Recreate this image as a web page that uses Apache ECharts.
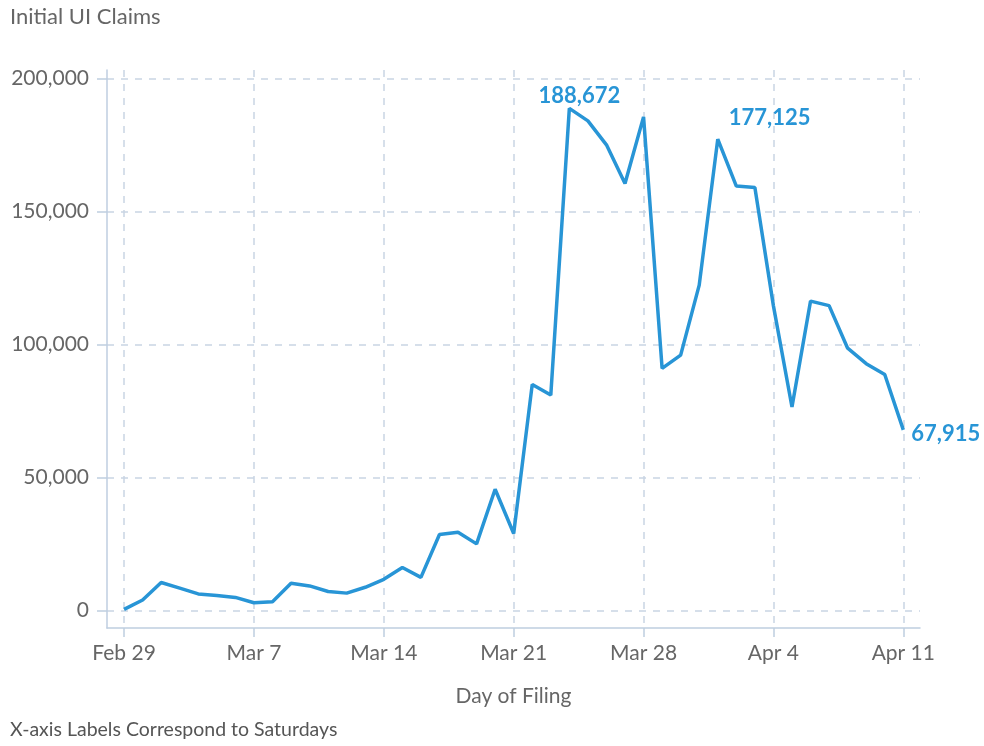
<!DOCTYPE html>
<html>
<head>
<meta charset="utf-8">
<script src="https://cdn.jsdelivr.net/npm/echarts@6/dist/echarts.min.js"></script>
<style>
  html, body { margin: 0; padding: 0; background: #fff; }
  #chart { width: 984px; height: 746px; }
</style>
</head>
<body>
<div id="chart"></div>
<script>
// one entry per filing day, Feb 29 .. Apr 11 (2020)
var days = [
  'Feb 29', 'Mar 1', 'Mar 2', 'Mar 3', 'Mar 4', 'Mar 5', 'Mar 6',
  'Mar 7', 'Mar 8', 'Mar 9', 'Mar 10', 'Mar 11', 'Mar 12', 'Mar 13',
  'Mar 14', 'Mar 15', 'Mar 16', 'Mar 17', 'Mar 18', 'Mar 19', 'Mar 20',
  'Mar 21', 'Mar 22', 'Mar 23', 'Mar 24', 'Mar 25', 'Mar 26', 'Mar 27',
  'Mar 28', 'Mar 29', 'Mar 30', 'Mar 31', 'Apr 1', 'Apr 2', 'Apr 3',
  'Apr 4', 'Apr 5', 'Apr 6', 'Apr 7', 'Apr 8', 'Apr 9', 'Apr 10',
  'Apr 11'
]
var claims = [
  500, 4000, 10600, 8500, 6300, 5700, 5000,
  3000, 3400, 10300, 9300, 7200, 6600, 8800,
  11800, 16200, 12500, 28600, 29500, 25100, 45600,
  29000, 85000, 81000, 188672, 184000, 175000, 160500,
  185500, 91000, 96000, 122300, 177125, 159500, 159000,
  114500, 76500, 116300, 114600, 98600, 92800, 88700,
  67915
]
// days that carry a value label
var labelled = ['Mar 24', 'Apr 1', 'Apr 11']
var tickLabels = ['Feb 29', 'Mar 7', 'Mar 14', 'Mar 21', 'Mar 28', 'Apr 4', 'Apr 11']
var yTicks = [0, 50000, 100000, 150000, 200000]

var font = 'Lato'
var lineColor = '#2895d6'
var gridColor = '#c9d5e4'
var axisColor = '#bfcee0'

var labelPlace = {
  'Mar 24': { position: 'top', offset: [10, 3] },
  'Apr 1': { position: 'right', offset: [6, -21] },
  'Apr 11': { position: 'right', offset: [3, 4] }
}

var seriesData = claims.map(function (v, i) {
  var item = { value: [i, v] }
  if (labelled.indexOf(days[i]) >= 0) {
    item.label = {
      show: true,
      position: labelPlace[days[i]].position,
      offset: labelPlace[days[i]].offset,
      formatter: function (p) { return p.value[1].toLocaleString('en-US') },
      color: lineColor,
      fontFamily: font,
      fontWeight: 'bold',
      fontSize: 22
    }
  }
  return item
})

var option = {
  animation: false,
  backgroundColor: '#fff',
  title: [
    {
      text: 'Initial UI Claims',
      left: 10,
      top: 6,
      padding: 0,
      textStyle: { color: '#666', fontFamily: font, fontWeight: 'normal', fontSize: 22 }
    },
    {
      text: 'X-axis Labels Correspond to Saturdays',
      left: 10,
      top: 720,
      padding: 0,
      textStyle: { color: '#555', fontFamily: font, fontWeight: 'normal', fontSize: 19.5 }
    }
  ],
  grid: { left: 107, right: 64, top: 70, bottom: 118 },
  xAxis: {
    type: 'value',
    min: -0.92,
    max: 42.9,
    name: 'Day of Filing',
    nameLocation: 'middle',
    nameGap: 58,
    nameTextStyle: { color: '#666', fontFamily: font, fontSize: 21 },
    axisLine: { show: true, onZero: false, lineStyle: { color: axisColor, width: 1.5 } },
    axisTick: {
      show: true,
      length: 9,
      customValues: tickLabels.map(function (d) { return days.indexOf(d) }),
      lineStyle: { color: axisColor, width: 1.5 }
    },
    axisLabel: {
      customValues: tickLabels.map(function (d) { return days.indexOf(d) }),
      formatter: function (v) { return days[Math.round(v)] },
      color: '#666',
      fontFamily: font,
      fontSize: 21,
      margin: 15
    },
    splitLine: {
      show: true,
      lineStyle: { color: gridColor, type: [7, 7], width: 1.5 }
    }
  },
  yAxis: {
    type: 'value',
    min: -6500,
    max: 203100,
    axisLine: { show: true, onZero: false, lineStyle: { color: axisColor, width: 1.5 } },
    axisTick: {
      show: true,
      length: 10,
      customValues: yTicks,
      lineStyle: { color: axisColor, width: 1.5 }
    },
    axisLabel: {
      customValues: yTicks,
      formatter: function (v) { return v.toLocaleString('en-US') },
      color: '#666',
      fontFamily: font,
      fontSize: 21,
      margin: 18
    },
    splitLine: {
      show: true,
      lineStyle: { color: gridColor, type: [7, 7], width: 1.5 }
    }
  },
  series: [
    {
      type: 'line',
      data: seriesData,
      showSymbol: true,
      symbol: 'circle',
      symbolSize: 0,
      lineStyle: { color: lineColor, width: 3.5 },
      itemStyle: { color: lineColor }
    }
  ]
}

echarts.init(document.getElementById('chart')).setOption(option)
</script>
</body>
</html>
